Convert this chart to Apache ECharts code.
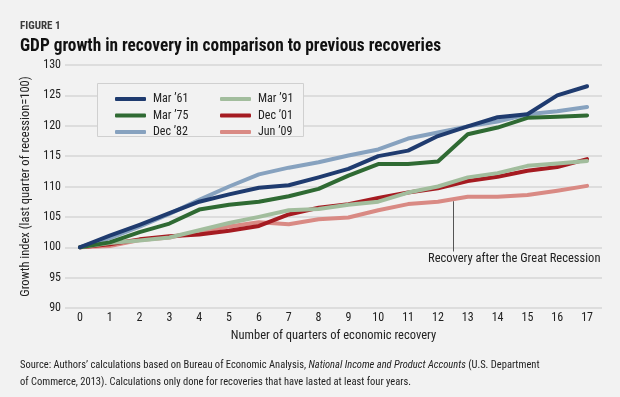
<!DOCTYPE html>
<html>
<head>
<meta charset="utf-8">
<script src="https://cdn.jsdelivr.net/npm/echarts@6/dist/echarts.min.js"></script>
<style>
    html, body {margin: 0; padding: 0; background: #f2f2f2;}
    #main {width: 620px; height: 397px;}
</style>
</head>
<body>
<div id="main"></div>
<script>
    // 数据
    var quarters = ['0', '1', '2', '3', '4', '5', '6', '7', '8', '9', '10', '11', '12', '13', '14', '15', '16', '17'];
    var mar61 = [100, 101.9, 103.7, 105.6, 107.5, 108.7, 109.8, 110.2, 111.5, 112.9, 115.0, 115.9, 118.3, 119.9, 121.4, 121.9, 125.0, 126.5];
    var mar75 = [100, 100.8, 102.5, 103.9, 106.2, 107.0, 107.5, 108.4, 109.6, 111.8, 113.7, 113.7, 114.1, 118.6, 119.7, 121.3, 121.5, 121.7];
    var dec82 = [100, 101.5, 103.4, 105.5, 107.8, 110.0, 112.0, 113.1, 114.0, 115.1, 116.1, 117.9, 118.9, 119.9, 120.7, 121.9, 122.4, 123.1];
    var mar91 = [100, 100.7, 101.1, 101.6, 102.8, 104.0, 105.0, 106.1, 106.3, 107.0, 107.5, 109.0, 110.0, 111.5, 112.2, 113.4, 113.8, 114.2];
    var dec01 = [100, 100.5, 101.3, 101.8, 102.1, 102.7, 103.5, 105.4, 106.5, 107.1, 108.1, 109.0, 109.7, 110.9, 111.6, 112.6, 113.2, 114.5];
    var jun09 = [100, 100.2, 101.2, 101.6, 102.6, 103.4, 104.1, 103.8, 104.6, 104.9, 106.1, 107.1, 107.5, 108.3, 108.3, 108.6, 109.3, 110.1];
    var yTicks = [90, 95, 100, 105, 110, 115, 120, 125, 130];

    var seriesNames = ['Mar \u201961', 'Mar \u201975', 'Dec \u201982', 'Mar \u201991', 'Dec \u201901', 'Jun \u201909'];
    var seriesData = [mar61, mar75, dec82, mar91, dec01, jun09];
    var colors = ['#1f3b6f', '#2f6a33', '#87a2bf', '#a2bd9d', '#a51b21', '#d98a84'];
    var annotation = 'Recovery after the Great Recession';
    var titleText = 'GDP growth in recovery in comparison to previous recoveries';

    var font = '"Roboto Condensed", "DejaVu Sans", sans-serif';

    var series = [];
    // 后画深色线条, 让它们在上面
    for (var i = seriesData.length - 1; i >= 0; i--) {
        series.push({
            name: seriesNames[i],
            type: 'line',
            data: seriesData[i],
            showSymbol: false,
            lineStyle: {width: 4, color: colors[i], cap: 'round', join: 'round'},
            itemStyle: {color: colors[i]},
            emphasis: {disabled: true}
        });
    }

    var legendBase = {
        orient: 'vertical',
        top: 88,
        itemWidth: 31,
        itemHeight: 4,
        itemGap: 4.5,
        icon: 'roundRect',
        textStyle: {fontFamily: font, fontSize: 12, color: '#222', padding: [0, 0, 0, 2]}
    };

    var opt = {
        backgroundColor: '#f2f2f2',
        animation: false,
        grid: {left: 65, right: 18, top: 65, bottom: 89},
        legend: [
            Object.assign({}, legendBase, {left: 110, data: seriesNames.slice(0, 3)}),
            Object.assign({}, legendBase, {left: 215, data: seriesNames.slice(3)})
        ],
        xAxis: {
            type: 'category',
            data: quarters,
            boundaryGap: true,
            name: 'Number of quarters of economic recovery',
            nameLocation: 'middle',
            nameGap: 21,
            nameTextStyle: {fontFamily: font, fontSize: 12.5, color: '#222'},
            axisLine: {show: false},
            axisTick: {show: false},
            axisLabel: {fontFamily: font, fontSize: 12, color: '#222', margin: 4}
        },
        yAxis: {
            type: 'value',
            min: yTicks[0],
            max: yTicks[yTicks.length - 1],
            interval: 5,
            name: 'Growth index (last quarter of recession=100)',
            nameLocation: 'middle',
            nameGap: 29,
            nameTextStyle: {fontFamily: font, fontSize: 12.5, color: '#222'},
            axisLine: {show: false},
            axisTick: {show: false},
            axisLabel: {fontFamily: font, fontSize: 12, color: '#222', margin: 4},
            splitLine: {lineStyle: {color: '#d6d6d6', width: 1.5}}
        },
        series: series
    };

    var myChart = echarts.init(document.getElementById('main'));
    myChart.setOption(opt);

    // 标题压缩到原图宽度
    var ctx = document.createElement('canvas').getContext('2d');
    ctx.font = 'bold 19px ' + font;
    var titleScale = 421 / ctx.measureText(titleText).width;

    // 注释线, 位置由坐标换算
    var p12 = myChart.convertToPixel({gridIndex: 0}, [12, jun09[12]]);
    var p13 = myChart.convertToPixel({gridIndex: 0}, [13, jun09[13]]);
    var lx = Math.round((p12[0] + p13[0]) / 2) + 0.5;
    var ly = (p12[1] + p13[1]) / 2 + 2;
    var ly2 = myChart.convertToPixel({yAxisIndex: 0}, 99.3);

    myChart.setOption({
        graphic: [
            {
                type: 'rect', x: 97.5, y: 83.5, z: 0, silent: true,
                shape: {width: 206, height: 53},
                style: {fill: '#f2f2f2', stroke: '#d0d0d0', lineWidth: 1}
            },
            {
                type: 'line', z: 5, silent: true,
                shape: {x1: lx, y1: ly, x2: lx, y2: ly2},
                style: {stroke: '#555', lineWidth: 1}
            },
            {
                type: 'text', z: 5, silent: true,
                x: lx - 25.5, y: ly2 + 7.5,
                style: {text: annotation, font: '12.5px ' + font, fill: '#222', verticalAlign: 'middle'}
            },
            {
                type: 'text', x: 20, y: 26,
                style: {text: 'FIGURE 1', font: 'bold 11px ' + font, fill: '#3a3a3a', verticalAlign: 'middle'}
            },
            {
                type: 'text', x: 20, y: 46, scaleX: titleScale,
                style: {text: titleText, font: 'bold 19px ' + font, fill: '#111', verticalAlign: 'middle'}
            },
            {
                type: 'text', x: 20, y: 374,
                style: {
                    text: 'Source: Authors\u2019 calculations based on Bureau of Economic Analysis, {i|National Income and Product Accounts} (U.S. Department\nof Commerce, 2013). Calculations only done for recoveries that have lasted at least four years.',
                    font: '10.5px ' + font,
                    fill: '#222',
                    lineHeight: 17,
                    verticalAlign: 'middle',
                    rich: {i: {fontStyle: 'italic', fontFamily: font, fontSize: 10.5, fill: '#222', lineHeight: 17}}
                }
            }
        ]
    });
</script>
</body>
</html>
